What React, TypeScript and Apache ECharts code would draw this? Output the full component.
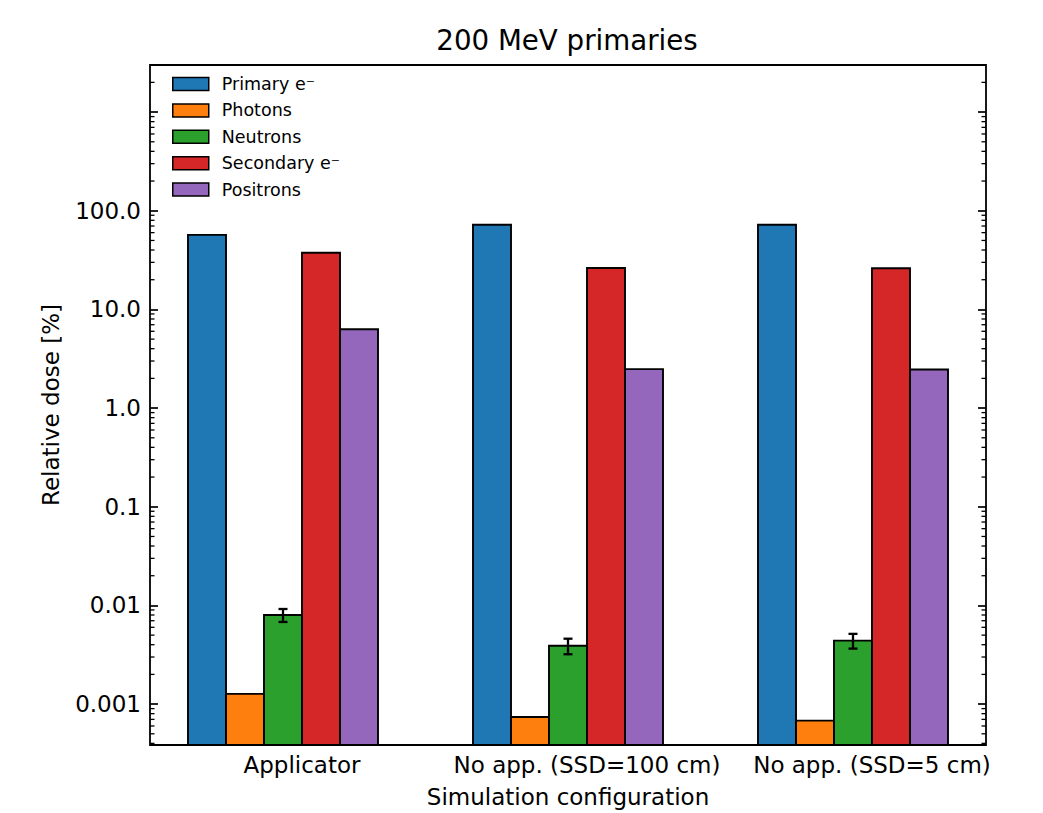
import React, { useEffect, useRef } from "react";
import * as echarts from "echarts";

// ---- data ----
const categories = ["Applicator", "No app. (SSD=100 cm)", "No app. (SSD=5 cm)"];
const seriesNames = ["Primary e\u207B", "Photons", "Neutrons", "Secondary e\u207B", "Positrons"];
const primaryE = [57, 72, 72];
const photons = [0.00127, 0.00074, 0.00068];
const neutrons = [0.008, 0.0039, 0.0044];
const neutronErr = [0.0012, 0.0007, 0.00075];
const secondaryE = [37.5, 26.3, 26.1];
const positrons = [6.3, 2.48, 2.46];
const yTickValues = [0.001, 0.01, 0.1, 1, 10, 100];
const yTickLabels = ["0.001", "0.01", "0.1", "1.0", "10.0", "100.0"];
const yMin = 0.000385;
const yMax = 3000;

// ---- styles ----
const colors = ["#1f77b4", "#ff7f0e", "#2ca02c", "#d62728", "#9467bd"];
const FONT = "DejaVu Sans";
const barW = 0.8 / 6;
const xMin = -0.1 - 2.75 * barW;
const xMax = 2.1 + 2.75 * barW;

const allValues = [primaryE, photons, neutrons, secondaryE, positrons];

// minor ticks of the log axis (2..9 x 10^k)
const minorTickValues: number[] = [];
for (let k = -4; k <= 3; k++) {
  for (let m = 2; m <= 9; m++) {
    const v = m * Math.pow(10, k);
    if (v > yMin && v < yMax) minorTickValues.push(v);
  }
}

function yLabel(v: number): string {
  for (let i = 0; i < yTickValues.length; i++) {
    if (Math.abs(v - yTickValues[i]) / yTickValues[i] < 1e-6) return yTickLabels[i];
  }
  return "";
}

export default function App() {
  const ref = useRef<HTMLDivElement>(null);
  useEffect(() => {
    document.body.style.margin = "0";
    const chart = echarts.init(ref.current!, null, { renderer: "svg" });

    const barSeries = allValues.map((vals, s) => ({
      type: "custom",
      name: seriesNames[s],
      xAxisIndex: 0,
      yAxisIndex: 0,
      itemStyle: { color: colors[s], borderColor: "#000", borderWidth: 1.8 },
      encode: { x: 0, y: 1 },
      data: vals.map((v, i) => (s === 2 ? [i, v, neutronErr[i]] : [i, v])),
      renderItem: (params: any, api: any) => {
        const i = api.value(0);
        const v = api.value(1);
        const xc = i + (s - 2) * barW;
        const p0 = api.coord([xc - barW / 2, v]);
        const p1 = api.coord([xc + barW / 2, v]);
        const bottom = params.coordSys.y + params.coordSys.height;
        const children: any[] = [
          {
            type: "rect",
            shape: { x: p0[0], y: p0[1], width: p1[0] - p0[0], height: bottom - p0[1] },
            style: { fill: colors[s], stroke: "#000", lineWidth: 1.9 },
          },
        ];
        if (s === 2) {
          const e = api.value(2);
          const top = api.coord([xc, v + e]);
          const low = api.coord([xc, v - e]);
          const cap = 4.5;
          const ls = { stroke: "#000", lineWidth: 2.3 };
          children.push(
            { type: "line", shape: { x1: top[0], y1: top[1], x2: low[0], y2: low[1] }, style: ls },
            { type: "line", shape: { x1: top[0] - cap, y1: top[1], x2: top[0] + cap, y2: top[1] }, style: ls },
            { type: "line", shape: { x1: low[0] - cap, y1: low[1], x2: low[0] + cap, y2: low[1] }, style: ls }
          );
        }
        return { type: "group", children };
      },
    }));

    const minorSeries = {
      type: "custom",
      silent: true,
      xAxisIndex: 0,
      yAxisIndex: 0,
      encode: { x: 0, y: 1 },
      z: 5,
      data: minorTickValues.map((v) => [0, v]),
      renderItem: (params: any, api: any) => {
        const y = api.coord([0, api.value(1)])[1];
        const l = params.coordSys.x;
        const r = params.coordSys.x + params.coordSys.width;
        const ls = { stroke: "#000", lineWidth: 1.3 };
        return {
          type: "group",
          children: [
            { type: "line", shape: { x1: l, y1: y, x2: l + 4.5, y2: y }, style: ls },
            { type: "line", shape: { x1: r - 4.5, y1: y, x2: r, y2: y }, style: ls },
          ],
        };
      },
    };

    const yAxisCommon = {
      type: "log",
      logBase: 10,
      min: yMin,
      max: yMax,
      axisLine: { show: false, onZero: false },
      splitLine: { show: false },
      axisTick: { show: true, inside: true, length: 8, lineStyle: { color: "#000", width: 1.7 } },
    };

    chart.setOption({
      animation: false,
      backgroundColor: "#fff",
      textStyle: { fontFamily: FONT },
      graphic: [
        {
          type: "text",
          x: 567,
          y: 26,
          style: {
            text: "200 MeV primaries",
            font: `27.7px "${FONT}"`,
            fill: "#000",
            align: "center",
            textAlign: "center",
            verticalAlign: "top",
            textVerticalAlign: "top",
          },
        },
      ],
      grid: {
        left: 150,
        top: 65,
        width: 836,
        height: 680,
        show: true,
        borderColor: "#000",
        borderWidth: 1.8,
        backgroundColor: "transparent",
      },
      legend: {
        orient: "vertical",
        left: 172,
        top: 75,
        padding: 0,
        itemWidth: 36,
        itemHeight: 13,
        itemGap: 8.4,
        icon: "rect",
        data: seriesNames,
        itemStyle: { borderColor: "#000", borderWidth: 1.5 },
        textStyle: { fontFamily: FONT, fontSize: 17.5, color: "#000", padding: [0, 0, 0, 8] },
        selectedMode: false,
      },
      xAxis: {
        type: "value",
        min: xMin,
        max: xMax,
        axisLine: { show: false, onZero: false },
        axisTick: { show: false },
        splitLine: { show: false },
        axisLabel: {
          customValues: categories.map((_, i) => i + barW / 2),
          formatter: (v: number) => categories[Math.round(v - barW / 2)] ?? "",
          fontFamily: FONT,
          fontSize: 23,
          color: "#000",
          margin: 8,
        },
        name: "Simulation configuration",
        nameLocation: "middle",
        nameGap: 40,
        nameTextStyle: { fontFamily: FONT, fontSize: 23, color: "#000" },
      },
      yAxis: [
        {
          ...yAxisCommon,
          position: "left",
          axisLabel: {
            formatter: (v: number) => yLabel(v),
            fontFamily: FONT,
            fontSize: 23,
            color: "#000",
            margin: 9,
          },
          name: "Relative dose [%]",
          nameLocation: "middle",
          nameGap: 88,
          nameTextStyle: { fontFamily: FONT, fontSize: 23, color: "#000" },
        },
        {
          ...yAxisCommon,
          position: "right",
          axisLabel: { show: false },
        },
      ],
      series: [...barSeries, minorSeries],
    });
    return () => chart.dispose();
  }, []);
  return <div ref={ref} style={{ width: 1043, height: 813 }} />;
}
